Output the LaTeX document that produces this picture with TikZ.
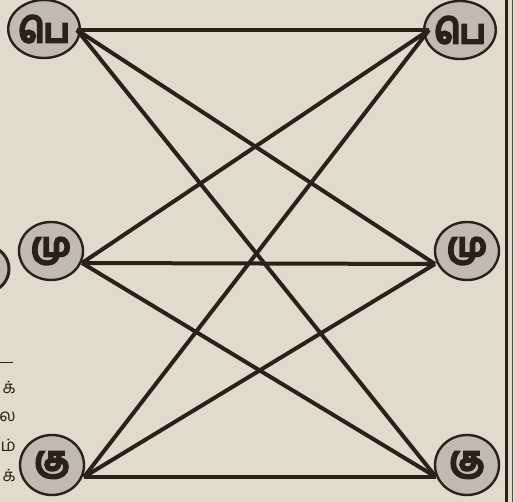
\documentclass[tikz,border=0pt]{standalone}
\usepackage{fontspec}
\newfontfamily\tamil[Script=Tamil]{Hind Madurai}
\newfontfamily\tamilheavy[Script=Tamil, FakeBold=10]{Hind Madurai}
\usetikzlibrary{shapes.geometric}
\definecolor{paper}{RGB}{226,218,205}
\definecolor{ink}{RGB}{45,32,25}
\definecolor{discfill}{RGB}{194,186,176}
\begin{document}
\begin{tikzpicture}[x=1pt,y=-1pt,
  disc/.style={ellipse, draw=ink, line width=2.4pt, fill=discfill,
    minimum width=64pt, minimum height=58pt, inner sep=0pt,
    font=\tamilheavy\fontsize{32}{32}\selectfont, text=ink},
  link/.style={draw=ink, line width=4pt},
  frag/.style={anchor=east, inner sep=0pt, text=ink,
    font=\tamil\fontsize{17}{17}\selectfont},
  edge rule/.style={draw=ink, line width=3pt}]
\fill[paper] (0,0) rectangle (515,502);
\useasboundingbox (0,0) rectangle (515,502);
% neighbouring scraps at the page edges
\begin{scope}
\clip (0,0) rectangle (515,502);
\node[circle, draw=ink, line width=3pt, fill=discfill, minimum size=46pt] (sidedisc) at (-14,269) {};
\end{scope}
\draw[ink, line width=0.8pt] (0,362) -- (13,362);
\node[frag] (f1) at (16,387) {க்};
\node[frag] (f2) at (16,417) {ல};
\node[frag] (f3) at (16,445) {ம்};
\node[frag] (f4) at (16,475) {க்};
\draw[edge rule] (506,0) -- (506,502);
\draw[ink!80, line width=1.8pt] (512.5,0) -- (512.5,502);
% discs
\node[disc, minimum width=66pt] (tl) at (44,29) {பெ};
\node[disc] (tr) at (460,30) {பெ};
\node[disc] (ml) at (51,251) {மு};
\node[disc] (mr) at (467,251) {மு};
\node[disc, minimum height=60pt] (bl) at (52,465) {கு};
\node[disc, minimum height=60pt] (br) at (467,465) {கு};
% meeting points on the disc rims
\coordinate (a1) at (77,30);
\coordinate (a2) at (82,263);
\coordinate (a3) at (84,477);
\coordinate (b1) at (429,30);
\coordinate (b2) at (435,264);
\coordinate (b3) at (436,477);
% connectors
\foreach \s in {a1,a2,a3}{
  \foreach \t in {b1,b2,b3}{
    \draw[link] (\s) -- (\t);
  }
}
\end{tikzpicture}
\end{document}
